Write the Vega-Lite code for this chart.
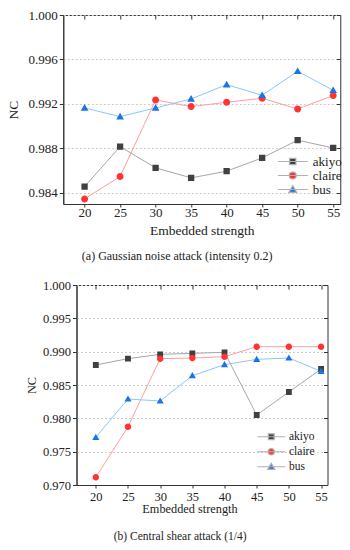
{
  "$schema": "https://vega.github.io/schema/vega-lite/v6.json",
  "padding": {"left": 5, "top": 8, "right": 5, "bottom": 5},
  "background": "white",
  "center": true,
  "spacing": 16,
  "config": {
    "font": "Liberation Serif",
    "view": {"stroke": "#333333", "strokeWidth": 1},
    "axis": {"labelFont": "Liberation Serif", "titleFont": "Liberation Serif", "labelColor": "#222", "titleColor": "#222", "titleFontWeight": "normal", "domainColor": "#333", "tickColor": "#333", "gridColor": "#cccccc", "gridDash": [2, 2]},
    "legend": {"labelFont": "Liberation Serif", "labelColor": "#222"},
    "title": {"font": "Liberation Serif", "fontWeight": "normal", "color": "#222"}
  },
  "datasets": {
    "a": [
      {"s": 20, "series": "akiyo", "nc": 0.98457}, {"s": 25, "series": "akiyo", "nc": 0.98816}, {"s": 30, "series": "akiyo", "nc": 0.98625}, {"s": 35, "series": "akiyo", "nc": 0.98535}, {"s": 40, "series": "akiyo", "nc": 0.98595}, {"s": 45, "series": "akiyo", "nc": 0.98715}, {"s": 50, "series": "akiyo", "nc": 0.98874}, {"s": 55, "series": "akiyo", "nc": 0.98804},
      {"s": 20, "series": "claire", "nc": 0.98346}, {"s": 25, "series": "claire", "nc": 0.98547}, {"s": 30, "series": "claire", "nc": 0.99236}, {"s": 35, "series": "claire", "nc": 0.99176}, {"s": 40, "series": "claire", "nc": 0.99215}, {"s": 45, "series": "claire", "nc": 0.99251}, {"s": 50, "series": "claire", "nc": 0.99155}, {"s": 55, "series": "claire", "nc": 0.99275},
      {"s": 20, "series": "bus", "nc": 0.99164}, {"s": 25, "series": "bus", "nc": 0.99086}, {"s": 30, "series": "bus", "nc": 0.99164}, {"s": 35, "series": "bus", "nc": 0.99245}, {"s": 40, "series": "bus", "nc": 0.99374}, {"s": 45, "series": "bus", "nc": 0.99278}, {"s": 50, "series": "bus", "nc": 0.99494}, {"s": 55, "series": "bus", "nc": 0.99323}
    ],
    "b": [
      {"s": 20, "series": "akiyo", "nc": 0.988}, {"s": 25, "series": "akiyo", "nc": 0.98895}, {"s": 30, "series": "akiyo", "nc": 0.9896}, {"s": 35, "series": "akiyo", "nc": 0.98975}, {"s": 40, "series": "akiyo", "nc": 0.9899}, {"s": 45, "series": "akiyo", "nc": 0.9805}, {"s": 50, "series": "akiyo", "nc": 0.98395}, {"s": 55, "series": "akiyo", "nc": 0.9874},
      {"s": 20, "series": "claire", "nc": 0.97115}, {"s": 25, "series": "claire", "nc": 0.97875}, {"s": 30, "series": "claire", "nc": 0.98895}, {"s": 35, "series": "claire", "nc": 0.98905}, {"s": 40, "series": "claire", "nc": 0.98925}, {"s": 45, "series": "claire", "nc": 0.99075}, {"s": 50, "series": "claire", "nc": 0.99075}, {"s": 55, "series": "claire", "nc": 0.99075},
      {"s": 20, "series": "bus", "nc": 0.97715}, {"s": 25, "series": "bus", "nc": 0.9829}, {"s": 30, "series": "bus", "nc": 0.9826}, {"s": 35, "series": "bus", "nc": 0.9864}, {"s": 40, "series": "bus", "nc": 0.98805}, {"s": 45, "series": "bus", "nc": 0.98885}, {"s": 50, "series": "bus", "nc": 0.98905}, {"s": 55, "series": "bus", "nc": 0.98705}
    ]
  },
  "vconcat": [
    {
      "width": 277,
      "height": 189,
      "data": {"name": "a"},
      "title": {"text": "(a) Gaussian noise attack (intensity 0.2)", "orient": "bottom", "fontSize": 12, "offset": 14, "frame": "bounds", "anchor": "middle"},
      "layer": [
        {
          "mark": {"type": "line", "strokeWidth": 1},
          "encoding": {
            "x": {"field": "s", "type": "quantitative", "scale": {"domain": [17, 56], "nice": false, "zero": false}, "axis": {"values": [20, 25, 30, 35, 40, 45, 50, 55], "title": "Embedded strength", "labelFontSize": 13, "titleFontSize": 13.5, "tickSize": 3, "labelPadding": -1, "titlePadding": 4, "grid": false}},
            "y": {"field": "nc", "type": "quantitative", "scale": {"domain": [0.983, 1.0], "nice": false, "zero": false}, "axis": {"values": [0.984, 0.988, 0.992, 0.996, 1.0], "format": ".3f", "title": "NC", "labelFontSize": 13, "titleFontSize": 13.5, "tickSize": 4, "labelPadding": 2, "titlePadding": 8, "grid": true}},
            "color": {"field": "series", "type": "nominal", "scale": {"domain": ["akiyo", "claire", "bus"], "range": ["#a6a6a6", "#ff9e9e", "#8ec6f7"]}, "legend": null},
            "detail": {"field": "series"}
          }
        },
        {
          "mark": {"type": "point", "filled": true, "size": 49, "opacity": 1},
          "encoding": {
            "x": {"field": "s", "type": "quantitative", "axis": null},
            "y": {"field": "nc", "type": "quantitative", "axis": null},
            "color": {"field": "series", "type": "nominal", "scale": {"domain": ["akiyo", "claire", "bus"], "range": ["#404040", "#ff3333", "#1a73e8"]},
              "legend": {"orient": "none", "legendX": 223, "legendY": 140, "title": null, "labelFontSize": 13, "symbolSize": 49, "labelOffset": 13.5, "rowPadding": 0, "symbolStrokeColor": "#b0b0b0", "symbolStrokeWidth": 1.2,
                "encode": {"symbols": {
                  "stroke": {"value": {"expr": "datum.value == 'akiyo' ? '#a6a6a6' : datum.value == 'claire' ? '#ff9e9e' : '#8ec6f7'"}}
                }}}},
            "shape": {"field": "series", "type": "nominal", "scale": {"domain": ["akiyo", "claire", "bus"], "range": ["M-4.3,0H4.3M-0.9,-0.9H0.9V0.9H-0.9Z", "M-4.3,0H4.3M1,0A1,1,0,1,1,-1,0A1,1,0,1,1,1,0Z", "M-4.3,0H4.3M0,-1.1L1.1,0.8H-1.1Z"]}}
          }
        },
        {
          "mark": {"type": "point", "opacity": 0},
          "encoding": {
            "x": {"field": "s", "type": "quantitative", "axis": {"orient": "top", "values": [20, 25, 30, 35, 40, 45, 50, 55], "labels": false, "title": null, "domain": false, "tickSize": -4, "grid": false}},
            "y": {"field": "nc", "type": "quantitative", "axis": {"orient": "right", "values": [0.984, 0.988, 0.992, 0.996, 1.0], "labels": false, "title": null, "domain": false, "tickSize": -4, "grid": false}}
          }
        }
      ],
      "resolve": {"scale": {"color": "independent", "shape": "independent"}, "axis": {"x": "independent", "y": "independent"}}
    },
    {
      "width": 251,
      "height": 200,
      "data": {"name": "b"},
      "title": {"text": "(b) Central shear attack (1/4)", "orient": "bottom", "fontSize": 11.5, "offset": 16, "frame": "bounds", "anchor": "middle"},
      "layer": [
        {
          "mark": {"type": "line", "strokeWidth": 1},
          "encoding": {
            "x": {"field": "s", "type": "quantitative", "scale": {"domain": [17, 56], "nice": false, "zero": false}, "axis": {"values": [20, 25, 30, 35, 40, 45, 50, 55], "title": "Embedded strength", "labelFontSize": 12.5, "titleFontSize": 12.3, "tickSize": 3, "labelPadding": 2, "titlePadding": 0, "grid": false, "titleX": 113}},
            "y": {"field": "nc", "type": "quantitative", "scale": {"domain": [0.97, 1.0], "nice": false, "zero": false}, "axis": {"values": [0.97, 0.975, 0.98, 0.985, 0.99, 0.995, 1.0], "format": ".3f", "title": "NC", "labelFontSize": 12.5, "titleFontSize": 12.3, "tickSize": 4, "labelPadding": 2, "titlePadding": 4, "grid": true}},
            "color": {"field": "series", "type": "nominal", "scale": {"domain": ["akiyo", "claire", "bus"], "range": ["#a6a6a6", "#ff9e9e", "#8ec6f7"]}, "legend": null},
            "detail": {"field": "series"}
          }
        },
        {
          "mark": {"type": "point", "filled": true, "size": 42, "opacity": 1},
          "encoding": {
            "x": {"field": "s", "type": "quantitative", "axis": null},
            "y": {"field": "nc", "type": "quantitative", "axis": null},
            "color": {"field": "series", "type": "nominal", "scale": {"domain": ["akiyo", "claire", "bus"], "range": ["#404040", "#ff3333", "#1a73e8"]},
              "legend": {"orient": "none", "legendX": 189, "legendY": 146, "title": null, "labelFontSize": 11.5, "symbolSize": 42, "labelOffset": 12, "rowPadding": 2, "symbolStrokeColor": "#b0b0b0", "symbolStrokeWidth": 1.2,
                "encode": {"symbols": {
                  "stroke": {"value": {"expr": "datum.value == 'akiyo' ? '#a6a6a6' : datum.value == 'claire' ? '#ff9e9e' : '#8ec6f7'"}}
                }}}},
            "shape": {"field": "series", "type": "nominal", "scale": {"domain": ["akiyo", "claire", "bus"], "range": ["M-4.3,0H4.3M-0.9,-0.9H0.9V0.9H-0.9Z", "M-4.3,0H4.3M1,0A1,1,0,1,1,-1,0A1,1,0,1,1,1,0Z", "M-4.3,0H4.3M0,-1.1L1.1,0.8H-1.1Z"]}}
          }
        },
        {
          "mark": {"type": "point", "opacity": 0},
          "encoding": {
            "x": {"field": "s", "type": "quantitative", "axis": {"orient": "top", "values": [20, 25, 30, 35, 40, 45, 50, 55], "labels": false, "title": null, "domain": false, "tickSize": -4, "grid": false}},
            "y": {"field": "nc", "type": "quantitative", "axis": {"orient": "right", "values": [0.97, 0.975, 0.98, 0.985, 0.99, 0.995, 1.0], "labels": false, "title": null, "domain": false, "tickSize": -4, "grid": false}}
          }
        }
      ],
      "resolve": {"scale": {"color": "independent", "shape": "independent"}, "axis": {"x": "independent", "y": "independent"}}
    }
  ]
}
